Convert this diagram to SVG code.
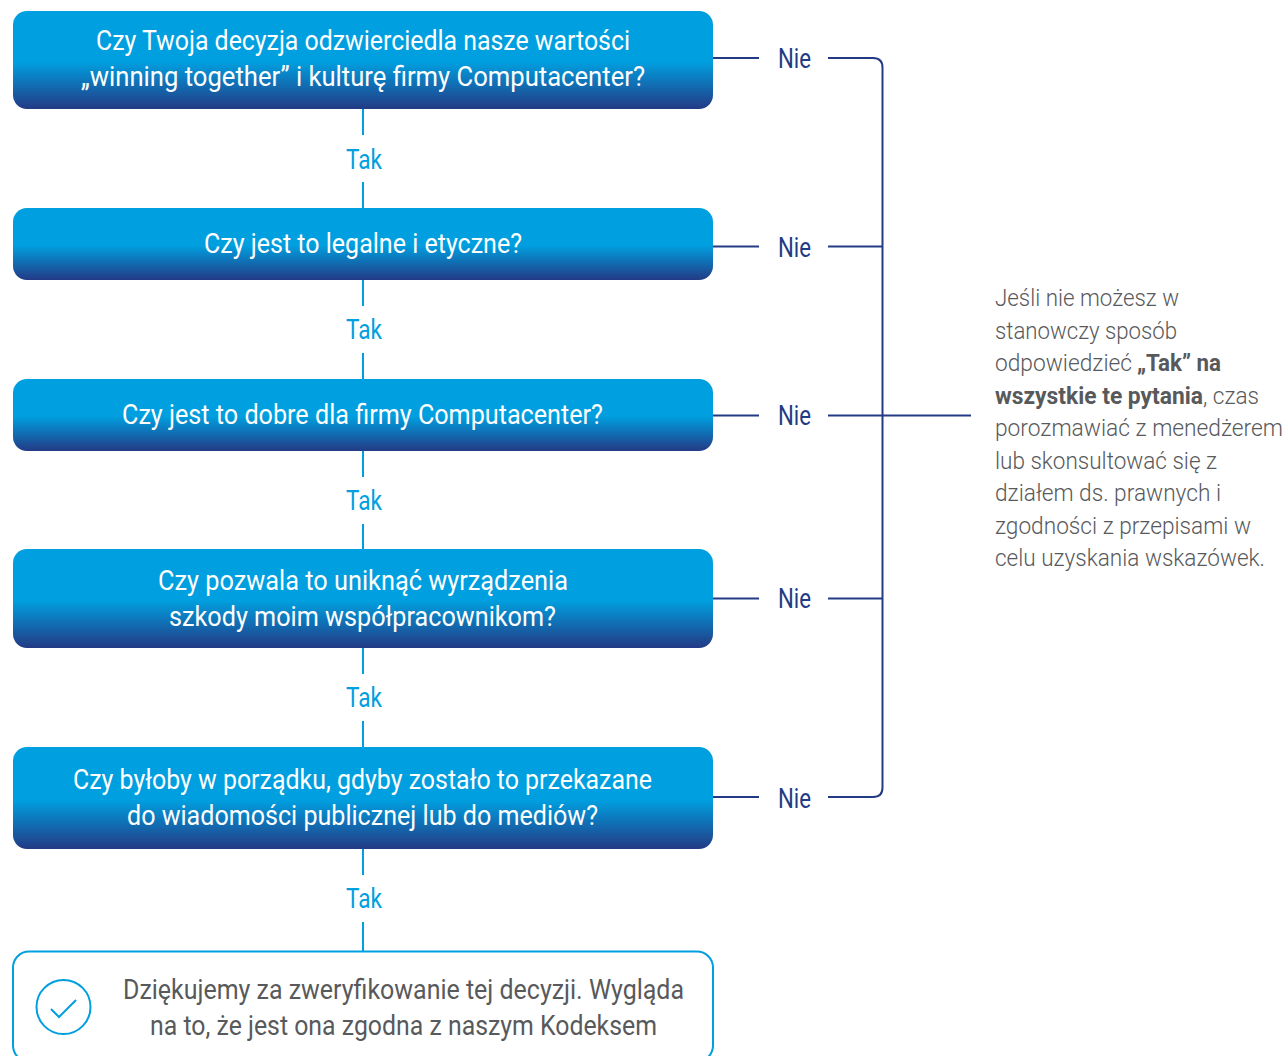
<svg xmlns="http://www.w3.org/2000/svg" width="1288" height="1056" viewBox="0 0 1288 1056">
<style>
text{font-family:"Roboto","Liberation Sans",sans-serif}
.q{font-size:27px;fill:#fff;font-weight:400}
.t{font-size:28px;fill:#009fdf}
.n{font-size:28px;fill:#233a85}
.d{font-size:27px;fill:#58595b;font-weight:400}
.s{font-size:23px;fill:#58595b;font-weight:300}
.b{font-weight:700}
.y{stroke:#009fdf;stroke-width:2;fill:none}
.o{stroke:#233a85;stroke-width:2;fill:none}
</style>
<defs>
<linearGradient id="g" x1="0" y1="0" x2="0" y2="1"><stop offset="0.52" stop-color="#009fdf"/><stop offset="1" stop-color="#233a85"/></linearGradient>
</defs>
<rect width="1288" height="1056" fill="#fff"/>
<g id="connectors">
<path class="y" d="M363 109V135M363 182V208M363 280V306M363 353V379M363 451V477M363 524V549M363 648V674M363 721V747M363 849V875M363 922V951"/>
<path class="o" d="M713 58H759M828 58H873Q882.500 58 882.500 67.500V787.500Q882.500 797 873 797H828M759 797H713M713 246.500H759M828 246.500H882.500M713 415.500H759M828 415.500H971M713 598.500H759M828 598.500H882.500"/>
</g>
<g id="q1"><rect x="13" y="11" width="700" height="98" rx="14" fill="url(#g)"/>
<text class="q" x="96" y="50" textLength="534" lengthAdjust="spacingAndGlyphs">Czy Twoja decyzja odzwierciedla nasze wartości</text>
<text class="q" x="81" y="86" textLength="564" lengthAdjust="spacingAndGlyphs">„winning together” i kulturę firmy Computacenter?</text></g>
<g id="q2"><rect x="13" y="208" width="700" height="72" rx="14" fill="url(#g)"/>
<text class="q" x="204" y="253" textLength="318" lengthAdjust="spacingAndGlyphs">Czy jest to legalne i etyczne?</text></g>
<g id="q3"><rect x="13" y="379" width="700" height="72" rx="14" fill="url(#g)"/>
<text class="q" x="122" y="424" textLength="481" lengthAdjust="spacingAndGlyphs">Czy jest to dobre dla firmy Computacenter?</text></g>
<g id="q4"><rect x="13" y="549" width="700" height="99" rx="14" fill="url(#g)"/>
<text class="q" x="158" y="590" textLength="410" lengthAdjust="spacingAndGlyphs">Czy pozwala to uniknąć wyrządzenia</text>
<text class="q" x="169" y="626" textLength="387" lengthAdjust="spacingAndGlyphs">szkody moim współpracownikom?</text></g>
<g id="q5"><rect x="13" y="747" width="700" height="102" rx="14" fill="url(#g)"/>
<text class="q" x="73" y="789" textLength="579" lengthAdjust="spacingAndGlyphs">Czy byłoby w porządku, gdyby zostało to przekazane</text>
<text class="q" x="127" y="825" textLength="471" lengthAdjust="spacingAndGlyphs">do wiadomości publicznej lub do mediów?</text></g>
<g id="result"><rect class="y" x="13" y="951.500" width="700" height="110" rx="16"/>
<circle class="y" cx="63.500" cy="1007" r="27"/>
<path class="y" d="M51 1009L59 1017L76 1000"/>
<text class="d" x="123" y="999" textLength="561" lengthAdjust="spacingAndGlyphs">Dziękujemy za zweryfikowanie tej decyzji. Wygląda</text>
<text class="d" x="150" y="1035" textLength="507" lengthAdjust="spacingAndGlyphs">na to, że jest ona zgodna z naszym Kodeksem</text></g>
<g id="tak-labels">
<text class="t" x="346" y="169" textLength="36" lengthAdjust="spacingAndGlyphs">Tak</text>
<text class="t" x="346" y="339" textLength="36" lengthAdjust="spacingAndGlyphs">Tak</text>
<text class="t" x="346" y="510" textLength="36" lengthAdjust="spacingAndGlyphs">Tak</text>
<text class="t" x="346" y="707" textLength="36" lengthAdjust="spacingAndGlyphs">Tak</text>
<text class="t" x="346" y="908" textLength="36" lengthAdjust="spacingAndGlyphs">Tak</text>
</g>
<g id="nie-labels">
<text class="n" x="778" y="68" textLength="33" lengthAdjust="spacingAndGlyphs">Nie</text>
<text class="n" x="778" y="257" textLength="33" lengthAdjust="spacingAndGlyphs">Nie</text>
<text class="n" x="778" y="425" textLength="33" lengthAdjust="spacingAndGlyphs">Nie</text>
<text class="n" x="778" y="608" textLength="33" lengthAdjust="spacingAndGlyphs">Nie</text>
<text class="n" x="778" y="808" textLength="33" lengthAdjust="spacingAndGlyphs">Nie</text>
</g>
<g id="note">
<text class="s" x="995" y="306" textLength="184" lengthAdjust="spacingAndGlyphs">Jeśli nie możesz w</text>
<text class="s" x="995" y="339" textLength="182" lengthAdjust="spacingAndGlyphs">stanowczy sposób</text>
<text class="s" x="995" y="371" textLength="137" lengthAdjust="spacingAndGlyphs">odpowiedzieć</text>
<text class="s b" x="1137" y="371" textLength="84" lengthAdjust="spacingAndGlyphs">„Tak” na</text>
<text class="s b" x="995" y="404" textLength="208" lengthAdjust="spacingAndGlyphs">wszystkie te pytania</text>
<text class="s" x="1203" y="404" textLength="56" lengthAdjust="spacingAndGlyphs">, czas</text>
<text class="s" x="995" y="436" textLength="288" lengthAdjust="spacingAndGlyphs">porozmawiać z menedżerem</text>
<text class="s" x="995" y="469" textLength="222" lengthAdjust="spacingAndGlyphs">lub skonsultować się z</text>
<text class="s" x="995" y="501" textLength="226" lengthAdjust="spacingAndGlyphs">działem ds. prawnych i</text>
<text class="s" x="995" y="534" textLength="256" lengthAdjust="spacingAndGlyphs">zgodności z przepisami w</text>
<text class="s" x="995" y="566" textLength="270" lengthAdjust="spacingAndGlyphs">celu uzyskania wskazówek.</text>
</g>
</svg>
